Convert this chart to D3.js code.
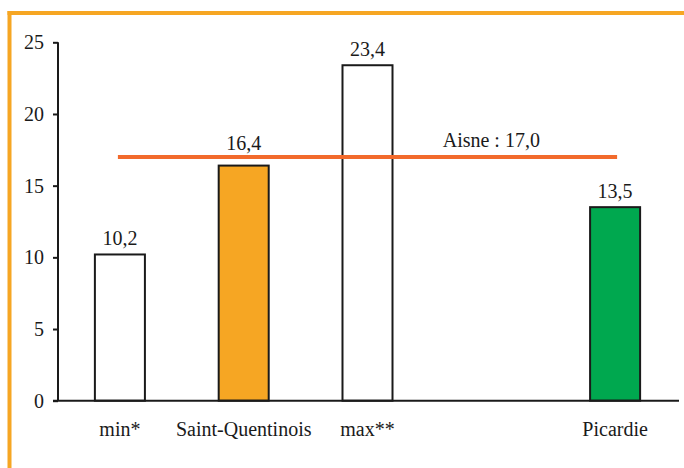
<!DOCTYPE html>
<html>
<head>
<meta charset="utf-8">
<script src="https://cdn.jsdelivr.net/npm/d3@7/dist/d3.min.js"></script>
<style>
  html, body { margin: 0; padding: 0; background: #fff; }
  svg { display: block; }
</style>
</head>
<body>
<svg id="chart" width="684" height="468"></svg>
<script>
const categories = ["min*", "Saint-Quentinois", "max**", "", "Picardie"];
const values = [10.2, 16.4, 23.4, null, 13.5];
const valueLabels = ["10,2", "16,4", "23,4", "", "13,5"];
const barColors = ["#ffffff", "#F6A623", "#ffffff", "#ffffff", "#00A84F"];
const yTicks = [0, 5, 10, 15, 20, 25];
const refValue = 17.0;
const refLabel = "Aisne : 17,0";

const FONT = "'Times New Roman', 'Liberation Serif', Times, serif";
const svg = d3.select("#chart");
const W = 684, H = 468;

// frame
const frameColor = "#F6A623";
svg.append("line").attr("x1", 7.5).attr("x2", W).attr("y1", 13).attr("y2", 13)
  .attr("stroke", frameColor).attr("stroke-width", 4);
svg.append("line").attr("x1", 9.5).attr("x2", 9.5).attr("y1", 11).attr("y2", H)
  .attr("stroke", frameColor).attr("stroke-width", 4);

const x = d3.scaleBand().domain(categories.map((c, i) => i)).range([58, 677]).paddingInner(0.596).paddingOuter(0.298);
const y = d3.scaleLinear().domain([0, 25]).range([400.7, 42.3]);

// y axis
const yAxis = d3.axisLeft(y).tickValues(yTicks).tickSize(5).tickPadding(9).tickFormat(d => d);
const gy = svg.append("g").attr("transform", "translate(58,0)").call(yAxis);
gy.attr("font-family", null).attr("font-size", null);
gy.select(".domain").attr("stroke", "#1a1a1a").attr("stroke-width", 2).attr("d", `M-0,${y(25)}V${y(0)}`);
gy.selectAll(".tick line").attr("stroke", "#1a1a1a").attr("stroke-width", 2);
gy.selectAll(".tick text").style("font-family", FONT).style("font-size", "20px").attr("fill", "#1a1a1a");

// bars
const data = categories.map((c, i) => ({ i, c, v: values[i], lab: valueLabels[i], col: barColors[i] }));
svg.append("g").selectAll("rect").data(data.filter(d => d.v != null)).join("rect")
  .attr("x", d => x(d.i))
  .attr("width", x.bandwidth())
  .attr("y", d => y(d.v))
  .attr("height", d => y(0) - y(d.v))
  .attr("fill", d => d.col)
  .attr("stroke", "#1a1a1a")
  .attr("stroke-width", 2);

// x axis line
svg.append("line").attr("x1", 53).attr("x2", 679).attr("y1", y(0)).attr("y2", y(0))
  .attr("stroke", "#1a1a1a").attr("stroke-width", 2);

// category labels
svg.append("g").selectAll("text").data(data).join("text")
  .attr("x", d => x(d.i) + x.bandwidth() / 2)
  .attr("y", 436)
  .attr("text-anchor", "middle")
  .style("font-family", FONT).style("font-size", "20px").attr("fill", "#1a1a1a")
  .text(d => d.c);

// reference line
const x0 = x(0) + x.bandwidth() / 2 - 2;
const x1 = x(categories.length - 1) + x.bandwidth() / 2 + 2;
svg.append("line").attr("x1", x0).attr("x2", x1).attr("y1", y(refValue)).attr("y2", y(refValue))
  .attr("stroke", "#F26A2C").attr("stroke-width", 4);
svg.append("text").attr("x", x(3) + x.bandwidth() / 2).attr("y", y(refValue) - 10)
  .attr("text-anchor", "middle")
  .style("font-family", FONT).style("font-size", "20px").attr("fill", "#1a1a1a")
  .text(refLabel);

// value labels
svg.append("g").selectAll("text").data(data.filter(d => d.v != null)).join("text")
  .attr("x", d => x(d.i) + x.bandwidth() / 2)
  .attr("y", d => Math.abs(y(d.v) - y(refValue)) < 20 ? y(refValue) - 7 : y(d.v) - 9)
  .attr("text-anchor", "middle")
  .style("font-family", FONT).style("font-size", "20px").attr("fill", "#1a1a1a")
  .text(d => d.lab);
</script>
</body>
</html>
